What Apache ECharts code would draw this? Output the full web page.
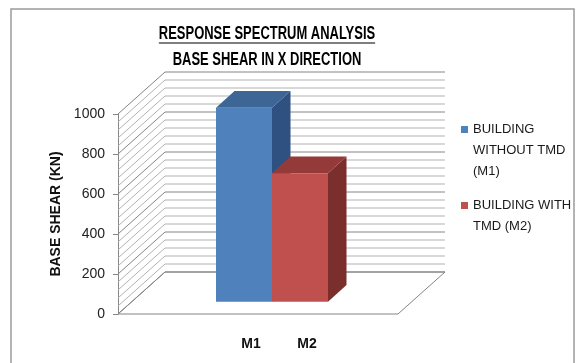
<!DOCTYPE html>
<html>
<head>
<meta charset="utf-8">
<script src="https://cdn.jsdelivr.net/npm/echarts@6/dist/echarts.min.js"></script>
<style>
  html, body { margin: 0; padding: 0; background: #ffffff; }
  #chart { width: 576px; height: 363px; }
</style>
</head>
<body>
<div id="chart"></div>
<script>
// ---- data ----
const categories = ['M1', 'M2'];
const seriesNames = ['BUILDING WITHOUT TMD (M1)', 'BUILDING WITH TMD (M2)'];
const legendLines = [['BUILDING', 'WITHOUT TMD', '(M1)'], ['BUILDING WITH', 'TMD (M2)']];
const baseShear = [970, 642];
const yMin = 0;
const yMax = 1000;
const yInterval = 200;
const yMinorStep = 40;
const titleLines = ['RESPONSE SPECTRUM ANALYSIS', 'BASE SHEAR IN X DIRECTION'];
const yAxisTitle = 'BASE SHEAR (KN)';

// ---- look ----
const FONT = 'Liberation Sans, Arial, sans-serif';
const TITLE_FONT = 'bold 18px Liberation Sans, Arial, sans-serif';
const TITLE_SCALE_X = 0.72;      // condensed title lettering
const faces = [
  { front: '#4F81BD', top: '#3D6595', side: '#2F5182' },
  { front: '#C0504D', top: '#943B39', side: '#7B2F2D' }
];
// oblique projection of the box the columns stand in
const AXIS_SHIFT = 105;          // y axis sits this far left of the category band
const FLOOR_WIDTH = 280;
const WALL_DEPTH = [47, 42];     // floor depth: right, up
const BAR_SHIFT = [-7, -12.3];   // column front face relative to the front plane
const BAR_DEPTH = [18.5, 16.7];  // column depth: right, up
const MAJOR_LINE = '#848484';
const MINOR_LINE = '#b2b2b2';

// legend: wrapped labels, colour square beside the first line
const LEGEND_LH = 21;
const LEGEND_SQ = 7;
const maxLines = Math.max(...legendLines.map(l => l.length));
const LEGEND_BOX_H = maxLines * LEGEND_LH;
function legendIcon(lineCount) {
  // the text block is centred in the icon box; put the square at its first line
  const firstLine = LEGEND_BOX_H / 2 - (lineCount - 1) * LEGEND_LH / 2;
  const y = firstLine - LEGEND_SQ / 2;
  return 'path://M0 0M' + LEGEND_SQ + ' ' + LEGEND_BOX_H +
    'M0 ' + y + 'h' + LEGEND_SQ + 'v' + LEGEND_SQ + 'H0Z';
}

const chart = echarts.init(document.getElementById('chart'), null, { renderer: 'canvas' });

function wallsItem(params, api) {
  const cs = params.coordSys;
  const x0 = cs.x - AXIS_SHIFT;
  const [dx, dy] = WALL_DEPTH;
  const yOf = v => api.coord([0, v])[1];
  const y0 = yOf(yMin);
  const children = [{
    type: 'polygon',
    shape: { points: [[x0, y0], [x0 + FLOOR_WIDTH, y0], [x0 + FLOOR_WIDTH + dx, y0 - dy], [x0 + dx, y0 - dy]] },
    style: { fill: '#ffffff', stroke: MAJOR_LINE, lineWidth: 1 }
  }];
  for (let v = yMin; v <= yMax; v += yMinorStep) {
    const y = yOf(v);
    const major = v % yInterval === 0;
    children.push({
      type: 'polyline',
      shape: { points: [[x0, y], [x0 + dx, y - dy], [x0 + FLOOR_WIDTH + dx, y - dy]] },
      style: { stroke: major ? MAJOR_LINE : MINOR_LINE, lineWidth: 1, fill: null }
    });
  }
  return { type: 'group', children };
}

function columnItem(colors) {
  return function (params, api) {
    const cat = api.value(0);
    const top = api.coord([cat, api.value(1)]);
    const base = api.coord([cat, 0]);
    const band = api.size([1, 0])[0];
    const xl = top[0] - band / 2 + BAR_SHIFT[0];
    const xr = xl + band;
    const yt = top[1] + BAR_SHIFT[1];
    const yb = base[1] + BAR_SHIFT[1];
    const [dx, dy] = BAR_DEPTH;
    return {
      type: 'group',
      children: [
        { type: 'polygon', shape: { points: [[xr, yt], [xr + dx, yt - dy], [xr + dx, yb - dy], [xr, yb]] }, style: { fill: colors.side } },
        { type: 'polygon', shape: { points: [[xl, yt], [xr, yt], [xr + dx, yt - dy], [xl + dx, yt - dy]] }, style: { fill: colors.top } },
        { type: 'rect', shape: { x: xl, y: yt, width: xr - xl, height: yb - yt }, style: { fill: colors.front } }
      ]
    };
  };
}

// width of the first title line, for its underline
const measure = document.createElement('canvas').getContext('2d');
measure.font = TITLE_FONT;
const titleWidth = measure.measureText(titleLines[0]).width * TITLE_SCALE_X;
const TITLE_X = 267;

const option = {
  backgroundColor: '#ffffff',
  animation: false,
  grid: { left: 223, width: 112, top: 114, bottom: 49, outerBoundsMode: 'none' },
  xAxis: {
    type: 'category',
    data: categories,
    axisLine: { show: false },
    axisTick: { show: false },
    axisLabel: { margin: 23, fontFamily: FONT, fontSize: 14, fontWeight: 'bold', color: '#111' },
    splitLine: { show: false }
  },
  yAxis: {
    type: 'value',
    min: yMin,
    max: yMax,
    interval: yInterval,
    offset: AXIS_SHIFT,
    axisLine: { show: true, lineStyle: { color: '#868686', width: 1 } },
    axisTick: { show: true, length: 5, lineStyle: { color: '#868686' } },
    axisLabel: { margin: 13, fontFamily: FONT, fontSize: 14, color: '#222', formatter: v => String(v) },
    splitLine: { show: false },
    name: yAxisTitle,
    nameLocation: 'middle',
    nameGap: 55,
    nameTextStyle: { fontFamily: FONT, fontSize: 14, fontWeight: 'bold', color: '#111' }
  },
  legend: {
    orient: 'vertical',
    left: 461,
    top: 119,
    padding: 0,
    itemWidth: LEGEND_SQ,
    itemHeight: LEGEND_BOX_H,
    itemGap: 2.5,
    symbolKeepAspect: true,
    selectedMode: false,
    textStyle: { fontFamily: FONT, fontSize: 13, color: '#1a1a1a', lineHeight: LEGEND_LH },
    formatter: name => legendLines[seriesNames.indexOf(name)].join('\n'),
    data: seriesNames.map((name, i) => ({ name, icon: legendIcon(legendLines[i].length) }))
  },
  graphic: [
    { type: 'rect', silent: true, shape: { x: 11, y: 9, width: 563, height: 400 }, style: { fill: null, stroke: '#9a9a9a', lineWidth: 1.5 } },
    { type: 'text', silent: true, x: TITLE_X, y: 34, scaleX: TITLE_SCALE_X, style: { text: titleLines[0], align: 'center', verticalAlign: 'middle', font: TITLE_FONT, fill: '#000' } },
    { type: 'line', silent: true, shape: { x1: TITLE_X - titleWidth / 2, y1: 43, x2: TITLE_X + titleWidth / 2, y2: 43 }, style: { stroke: '#000', lineWidth: 1.2 } },
    { type: 'text', silent: true, x: TITLE_X, y: 60, scaleX: TITLE_SCALE_X, style: { text: titleLines[1], align: 'center', verticalAlign: 'middle', font: TITLE_FONT, fill: '#000' } }
  ],
  series: [
    { type: 'custom', name: 'walls', silent: true, z: 1, clip: false, data: [[0]], renderItem: wallsItem }
  ].concat(seriesNames.map((name, i) => ({
    type: 'custom',
    name,
    z: 2 + i,
    clip: false,
    itemStyle: { color: faces[i].front },
    data: [[categories[i], baseShear[i]]],
    renderItem: columnItem(faces[i])
  })))
};

chart.setOption(option);
</script>
</body>
</html>
